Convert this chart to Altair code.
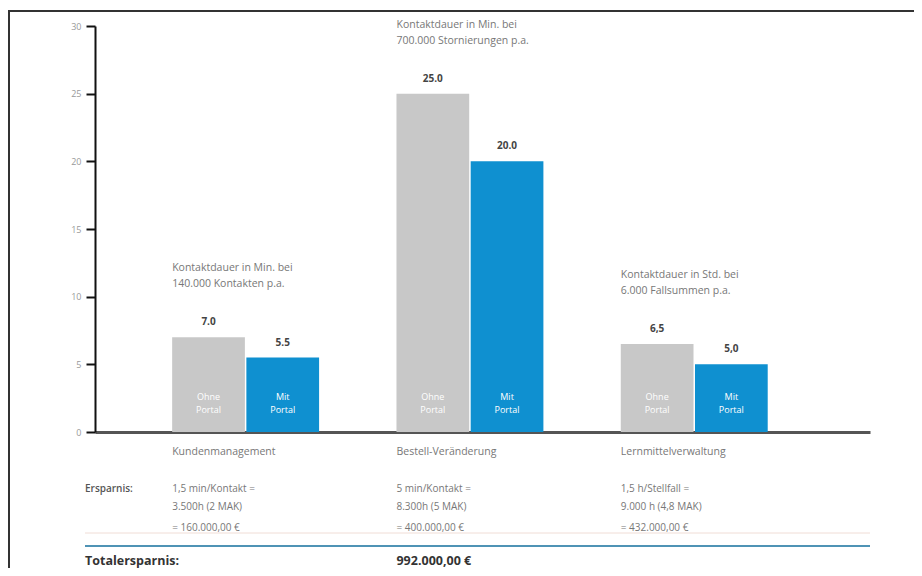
import altair as alt
import pandas as pd

categories = ["Kundenmanagement", "Bestell-Veränderung", "Lernmittelverwaltung"]
series = ["Ohne Portal", "Mit Portal"]
series_lines = ["Ohne\nPortal", "Mit\nPortal"]
ohne_values = [7.0, 25.0, 6.5]
mit_values = [5.5, 20.0, 5.0]
ohne_labels = ["7.0", "25.0", "6,5"]
mit_labels = ["5.5", "20.0", "5,0"]
annotations = [
    "Kontaktdauer in Min. bei\n140.000 Kontakten p.a.",
    "Kontaktdauer in Min. bei\n700.000 Stornierungen p.a.",
    "Kontaktdauer in Std. bei\n6.000 Fallsummen p.a.",
]
saving_calc = [
    "1,5 min/Kontakt =\n3.500h (2 MAK)",
    "5 min/Kontakt =\n8.300h (5 MAK)",
    "1,5 h/Stellfall =\n9.000 h (4,8 MAK)",
]
saving_sum = ["= 160.000,00 €", "= 400.000,00 €", "= 432.000,00 €"]
total_label = "Totalersparnis:"
total_value = "992.000,00 €"
y_ticks = [0, 5, 10, 15, 20, 25, 30]

FONT = "Open Sans"
GRAY = "#c8c8c8"
BLUE = "#0f90d0"

rows = []
for i, c in enumerate(categories):
    rows.append({"cat": c, "series": series[0], "inbar": series_lines[0], "value": ohne_values[i], "label": ohne_labels[i]})
    rows.append({"cat": c, "series": series[1], "inbar": series_lines[1], "value": mit_values[i], "label": mit_labels[i]})
bars_df = pd.DataFrame(rows)

cat_df = pd.DataFrame({
    "cat": categories,
    "value": ohne_values,
    "annotation": annotations,
    "calc": saving_calc,
    "sum": saving_sum,
})
total_df = pd.DataFrame({"cat": [categories[1]], "total": [total_value]})

xscale = alt.Scale(domain=categories, paddingInner=0.345, paddingOuter=0.4, align=0.43)
yscale = alt.Scale(domain=[0, 30])

x_bar = alt.X("cat:N", sort=categories, scale=xscale,
              axis=alt.Axis(labels=False, ticks=False, title=None, domainColor="#555555", domainWidth=3))
x_start = alt.X("cat:N", sort=categories, scale=xscale, bandPosition=0)
xoff = alt.XOffset("series:N", sort=series, scale=alt.Scale(domain=series, paddingInner=0.02, paddingOuter=0))

base = alt.Chart(bars_df)

bars = base.mark_bar().encode(
    x=x_bar,
    xOffset=xoff,
    y=alt.Y("value:Q", scale=yscale,
            axis=alt.Axis(values=y_ticks, title=None, grid=False, domainColor="#111111", domainWidth=2,
                          tickColor="#111111", tickWidth=2, tickSize=9, labelPadding=5,
                          labelColor="#999999", labelFontSize=9, labelFont=FONT)),
    color=alt.Color("series:N", scale=alt.Scale(domain=series, range=[GRAY, BLUE]), legend=None),
)

value_text = base.mark_text(font=FONT, fontSize=10, fontWeight="bold", color="#444444",
                            baseline="middle", dy=-15).encode(
    x=x_bar, xOffset=xoff, y=alt.Y("value:Q", scale=yscale), text="label:N")

inbar_text = base.mark_text(font=FONT, fontSize=9, color="white", baseline="middle",
                            lineBreak="\n", lineHeight=13).encode(
    x=x_bar, xOffset=xoff, y=alt.datum(2.6), text="inbar:N")

cbase = alt.Chart(cat_df)
annot = cbase.mark_text(font=FONT, fontSize=10.5, color="#777777", align="left", baseline="top",
                        lineBreak="\n", lineHeight=16, dy=-74).encode(
    x=x_start, y=alt.Y("value:Q", scale=yscale), text="annotation:N")

cat_text = cbase.mark_text(font=FONT, fontSize=10.5, color="#777777", align="left", baseline="middle").encode(
    x=x_start, y=alt.value(426), text="cat:N")

calc_text = cbase.mark_text(font=FONT, fontSize=10, color="#777777", align="left", baseline="middle",
                            lineBreak="\n", lineHeight=18).encode(
    x=x_start, y=alt.value(463), text="calc:N")

sum_text = cbase.mark_text(font=FONT, fontSize=10, color="#777777", align="left", baseline="middle").encode(
    x=x_start, y=alt.value(502), text="sum:N")

ersp = alt.Chart(pd.DataFrame({"t": ["Ersparnis:"]})).mark_text(
    font=FONT, fontSize=10, fontWeight=600, color="#555555", align="left", baseline="middle").encode(
    x=alt.value(-10), y=alt.value(463), text="t:N")

total_lbl = alt.Chart(pd.DataFrame({"t": [total_label]})).mark_text(
    font=FONT, fontSize=12.5, fontWeight="bold", color="#333333", align="left", baseline="middle").encode(
    x=alt.value(-10), y=alt.value(535), text="t:N")

total_val = alt.Chart(total_df).mark_text(
    font=FONT, fontSize=12.5, fontWeight="bold", color="#333333", align="left", baseline="middle").encode(
    x=x_start, y=alt.value(535), text="total:N")

line_df = pd.DataFrame({"k": [0]})
blue_line = alt.Chart(line_df).mark_rule(color="#4f93b5", strokeWidth=2).encode(
    x=alt.value(-10), x2=alt.value(775), y=alt.value(520))
light_line = alt.Chart(line_df).mark_rule(color="#f0ddd6", strokeWidth=1).encode(
    x=alt.value(-10), x2=alt.value(775), y=alt.value(507))
frame_top = alt.Chart(line_df).mark_rule(color="#333333", strokeWidth=2).encode(
    x=alt.value(-87), x2=alt.value(819), y=alt.value(-15))
frame_left = alt.Chart(line_df).mark_rule(color="#333333", strokeWidth=2).encode(
    x=alt.value(-86), y=alt.value(-15), y2=alt.value(560))

chart = alt.layer(
    frame_top, frame_left, light_line, blue_line,
    bars, value_text, inbar_text, annot, cat_text, calc_text, sum_text, ersp, total_lbl, total_val,
).properties(
    width=775, height=406,
    background="white",
    autosize=alt.AutoSizeParams(type="none"),
    padding={"left": 87, "top": 18, "right": 44, "bottom": 136},
).configure_view(stroke=None)

chart.save("out.html", embed_options={"renderer": "svg", "actions": False})
